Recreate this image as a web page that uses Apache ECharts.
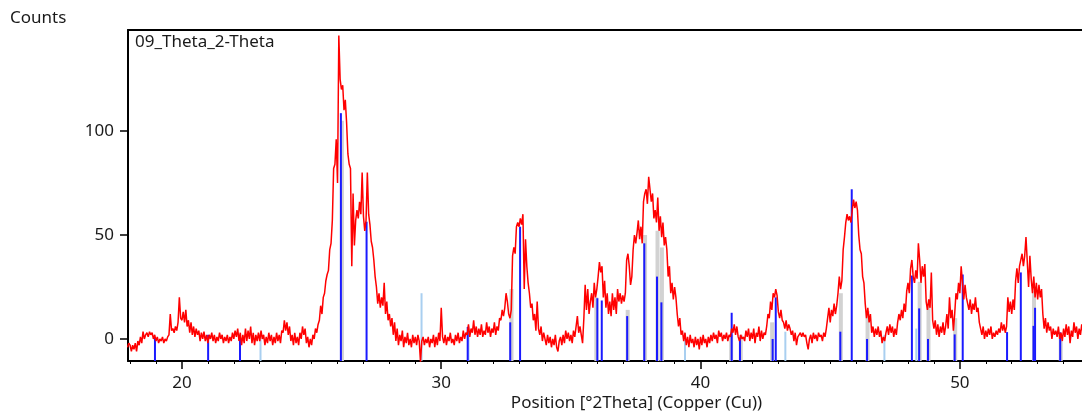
<!DOCTYPE html>
<html>
<head>
<meta charset="utf-8">
<title>09_Theta_2-Theta</title>
<script src="https://cdn.jsdelivr.net/npm/echarts@6/dist/echarts.min.js"></script>
<style>
  html, body { margin: 0; padding: 0; background: #fff; }
  #chart { width: 1082px; height: 411px; }
</style>
</head>
<body>
<div id="chart"></div>
<script>
// scan: counts every 0.05 °2Theta, first point at 17.90
const scanStart = 17.9
const scanStep = 0.05
const scanCounts = [
  -4, -2,
  // 18
  -3, -6, -3, -5, -2, -6, -1, -3, 1, -2, 3.5, 0, 2, 3, 1, 3.5, 2, 3, 0, 2,
  // 19
  -1, 1, -2, 0, -1, 1, -2, 0, -1, 1, 2, 12, 4, 5, 3, 6, 4, 8, 20, 10,
  // 20
  9, 13, 8, 14, 6, 9, 3, 8, 2, 6, 1, 5, 2, 4, -1, 3, 0, 3.5, -1, 2,
  // 21
  -2, 2, 0, 3, -1, 2, -2, 1, -1, 3, 0, 2, -2, 1, -1, 2, -2, 1, -1, 3,
  // 22
  0, 4, 1, 5, -1, 3, -3, 2, -2, 5, -1, 4, 0, 6, -2, 3, -3, 2, -1, 3,
  // 23
  -1, 4, 0, 2, -3, 1, -2, 3, -1, 2, -3, 1, -2, 3, -1, 2, -2, 4, 3, 9,
  // 24
  4, 8, 2, 6, -1, 2, -3, 3, -2, 1, -3, 3, 0, 6, 2, 5, -2, 1, -4, 0,
  // 25
  -3, 2, 0, 5, 3, 7, 9, 16, 12, 20, 22, 28, 31, 33, 43, 46, 57, 82, 84, 96,
  // 26
  75, 146, 125, 120, 122, 110, 115, 104, 89, 84, 82, 35, 70, 45, 57, 62, 58, 66, 60, 80,
  // 27
  59, 52, 57, 80, 60, 55, 47, 44, 38, 30, 25, 17, 22, 15, 20, 16, 27, 12, 18, 9,
  // 28
  12, 6, 10, 2, 8, -1, 5, -3, 2, -1, 4, -4, 1, -2, 3, -3, 0, -4, 2, -2,
  // 29
  1, -3, 2, -1, -11, -1, 1, -3, 0, -2, 1, -4, 0, -2, 2, -4, 1, -3, 3, -1,
  // 30
  15, 1, -2, 2, -3, 1, -1, 3, -2, 0, -3, 2, -1, 3, -2, 1, -1, 4, 0, 3,
  // 31
  2, 7, 1, 5, 3, 9, 2, 6, 1, 5, 2, 7, 1, 4, 2, 8, 3, 6, 1, 5,
  // 32
  3, 8, 2, 6, 4, 10, 9, 14, 11, 15, 22, 18, 12, 10, 14, 40, 44, 41, 54, 56,
  // 33
  54, 58, 55, 60, 24, 48, 35, 27, 22, 15, 17, 9, 12, 4, 18, 5, 2, 6, -1, 3,
  // 34
  0, -3, 2, -2, 1, -4, 0, -3, 2, -4, -6, -1, 1, -3, 2, -2, 4, 0, 3, -1,
  // 35
  2, -2, 4, 1, 6, 11, 3, 6, 2, -2, 10, 26, 14, 24, 12, 18, 22, 15, 27, 20,
  // 36
  24, 30, 37, 32, 35, 20, 28, 15, 22, 12, 18, 11, 22, 14, 20, 12, 24, 18, 22, 17,
  // 37
  21, 18, 22, 38, 41, 35, 26, 30, 43, 50, 46, 51, 57, 48, 54, 46, 66, 70, 72, 65,
  // 38
  78, 72, 66, 70, 58, 62, 56, 68, 52, 59, 49, 56, 45, 49, 43, 30, 35, 22, 27, 19,
  // 39
  25, 20, 12, 6, 10, 2, 4, -1, 3, -3, 1, -4, 2, -2, 0, -4, 1, -3, 0, -5,
  // 40
  1, -3, 2, -2, 0, -4, 1, -2, 2, -1, 3, 0, 2, -2, 4, 1, 3, -1, 2, 0,
  // 41
  3, -1, 2, 1, 5, 3, 7, 2, 6, 1, -1, 2, 0, 1, -1, 4, 1, 5, -1, 3,
  // 42
  0, 5, -2, 3, 1, 6, -1, 4, 0, 3, 2, 6, 12, 10, 18, 14, 22, 20, 24, 21,
  // 43
  13, 10, 14, 9, 8, 5, 9, 4, 7, 5, 2, 4, -1, 3, -3, 1, 2, 3, 1, 3,
  // 44
  1, 2, -2, -5, 0, 2, -2, 3, 0, 2, -1, 3, 1, 2, -1, 3, 1, 5, 10, 15,
  // 45
  8, 14, 11, 17, 12, 16, 22, 30, 24, 28, 43, 49, 56, 60, 57, 59, 56, 62, 67, 63,
  // 46
  66, 62, 50, 43, 41, 30, 27, 17, 10, 15, 8, 12, 3, 6, 1, 5, 2, 6, 1, 4,
  // 47
  -2, 1, -1, 3, 6, 2, 7, 3, 6, 1, 5, 2, 8, 12, 9, 14, 10, 17, 13, 23,
  // 48
  27, 22, 34, 38, 30, 27, 33, 29, 46, 38, 27, 35, 30, 36, 18, 14, 19, 15, 32, 9,
  // 49
  5, 9, 2, 7, 1, 6, 3, 8, 2, 6, 12, 5, 20, 10, 14, 4, 12, 22, 19, 27,
  // 50
  22, 35, 27, 19, 26, 20, 17, 14, 19, 12, 17, 14, 20, 13, 15, 8, 5, 2, 6, 0,
  // 51
  4, 1, 5, 2, 6, 0, 3, 1, 4, 2, 5, 3, 8, 4, 7, 3, 6, 20, 13, 18,
  // 52
  12, 19, 14, 28, 34, 27, 35, 38, 41, 35, 40, 49, 37, 25, 40, 29, 22, 30, 20, 27,
  // 53
  19, 26, 20, 24, 12, 5, 10, 3, 8, 4, 6, 0, 5, 2, 4, 1, 6, 0, 3, -1,
  // 54
  5, 1, 7, 2, 6, -2, 4, 1, 8, 3, 6, 0, 5, 2, 7, 3
]

// reference pattern sticks: [position °2Theta, height in counts]
const blueSticks = [
  [18.96, 0.5], [21.01, 2], [22.24, 2], [26.13, 108.6], [27.12, 56.4],
  [31.02, 5.8], [32.66, 8], [33.04, 54], [36.02, 19.6], [36.19, 18.5],
  [37.17, 11], [37.83, 46], [38.32, 30], [38.49, 17.6], [41.2, 12.6],
  [41.52, 0.6], [42.78, 0], [42.9, 20], [45.39, 3.5], [45.83, 72],
  [46.42, 0], [48.15, 30.5], [48.43, 14.7], [48.77, 0], [49.8, 2.2],
  [50.11, 31], [51.82, 3.3], [52.35, 32], [52.84, 6.3], [52.9, 15],
  [53.87, 3.2]
]
const graySticks = [
  [26.17, 105], [32.71, 24], [35.98, 20], [37.19, 14], [37.86, 50],
  [38.34, 52], [38.51, 44], [41.18, 2], [41.55, 2], [42.76, 8],
  [45.41, 22], [46.44, 13.5], [48.45, 27.5], [48.79, 16.5], [49.82, 10],
  [52.86, 23], [53.89, 2]
]
const lightBlueSticks = [
  [23.03, 2.5], [29.24, 22], [31.05, 6], [39.4, 3], [43.27, 3.5],
  [47.09, 2], [48.32, 5]
]

const xMajorTicks = [20, 30, 40, 50]
const xMinorTicks = [18, 19, 21, 22, 23, 24, 25, 26, 27, 28, 29, 31, 32, 33, 34, 35, 36, 37, 38, 39,
  41, 42, 43, 44, 45, 46, 47, 48, 49, 51, 52, 53, 54]
const yTicks = [0, 50, 100]

const xMin = 17.92
const xMax = 54.71
const yMin = -10.6
const yMax = 148.6

const font = 'Noto Sans'
const textColor = '#1a1a1a'

const scanData = scanCounts.map((c, i) => [+(scanStart + i * scanStep).toFixed(2), c])

function stickSeries(name, data, color, width) {
  return {
    name: name,
    type: 'custom',
    silent: true,
    data: data,
    encode: { x: 0, y: 1 },
    renderItem(params, api) {
      const top = api.coord([api.value(0), api.value(1)])
      const base = api.coord([api.value(0), yMin])
      return {
        type: 'line',
        shape: { x1: top[0], y1: top[1], x2: base[0], y2: base[1] },
        style: { stroke: color, lineWidth: width }
      }
    }
  }
}

const chart = echarts.init(document.getElementById('chart'))
const option = {
  animation: false,
  textStyle: { fontFamily: font },
  title: [
    {
      text: 'Counts',
      left: 10,
      top: 10,
      padding: 0,
      textStyle: { fontSize: 17, fontWeight: 'normal', color: textColor, fontFamily: font }
    },
    {
      text: '09_Theta_2-Theta',
      left: 135,
      top: 34,
      padding: 0,
      textStyle: { fontSize: 17, fontWeight: 'normal', color: textColor, fontFamily: font }
    }
  ],
  grid: { left: 128, right: 0, top: 30, bottom: 50, outerBoundsMode: 'none', containLabel: false },
  xAxis: [
    {
      type: 'value',
      min: xMin,
      max: xMax,
      position: 'bottom',
      name: 'Position [°2Theta] (Copper (Cu))',
      nameLocation: 'middle',
      nameGap: 34,
      nameMoveOverlap: false,
      nameTextStyle: { fontSize: 17, color: textColor, fontFamily: font, padding: [0, 0, 0, 63] },
      axisLine: { onZero: false, lineStyle: { color: '#000', width: 2 } },
      axisTick: { customValues: xMajorTicks, length: 8, lineStyle: { color: '#000', width: 1.5 } },
      axisLabel: { customValues: xMajorTicks, margin: 14, fontSize: 17, color: textColor, fontFamily: font },
      splitLine: { show: false }
    },
    {
      type: 'value',
      min: xMin,
      max: xMax,
      position: 'bottom',
      axisLine: { show: false, onZero: false },
      axisTick: { customValues: xMinorTicks, length: 3, lineStyle: { color: '#000', width: 1 } },
      axisLabel: { show: false },
      splitLine: { show: false }
    },
    {
      type: 'value',
      min: xMin,
      max: xMax,
      position: 'top',
      axisLine: { onZero: false, lineStyle: { color: '#000', width: 2 } },
      axisTick: { show: false },
      axisLabel: { show: false },
      splitLine: { show: false }
    }
  ],
  yAxis: {
    type: 'value',
    min: yMin,
    max: yMax,
    axisLine: { show: true, onZero: false, lineStyle: { color: '#000', width: 2 } },
    axisTick: { show: true, customValues: yTicks, length: 8, lineStyle: { color: '#000', width: 1.5 } },
    axisLabel: { customValues: yTicks, margin: 14, fontSize: 17, color: textColor, fontFamily: font },
    splitLine: { show: false }
  },
  series: [
    {
      name: '09_Theta_2-Theta',
      type: 'line',
      data: scanData,
      symbol: 'none',
      silent: true,
      lineStyle: { color: '#ff0000', width: 1.5 }
    },
    stickSeries('pattern 2', graySticks, '#d2d2d2', 4),
    stickSeries('pattern 3', lightBlueSticks, '#a9cff0', 2),
    stickSeries('pattern 1', blueSticks, '#1a1aff', 2)
  ]
}
chart.setOption(option)
</script>
</body>
</html>
